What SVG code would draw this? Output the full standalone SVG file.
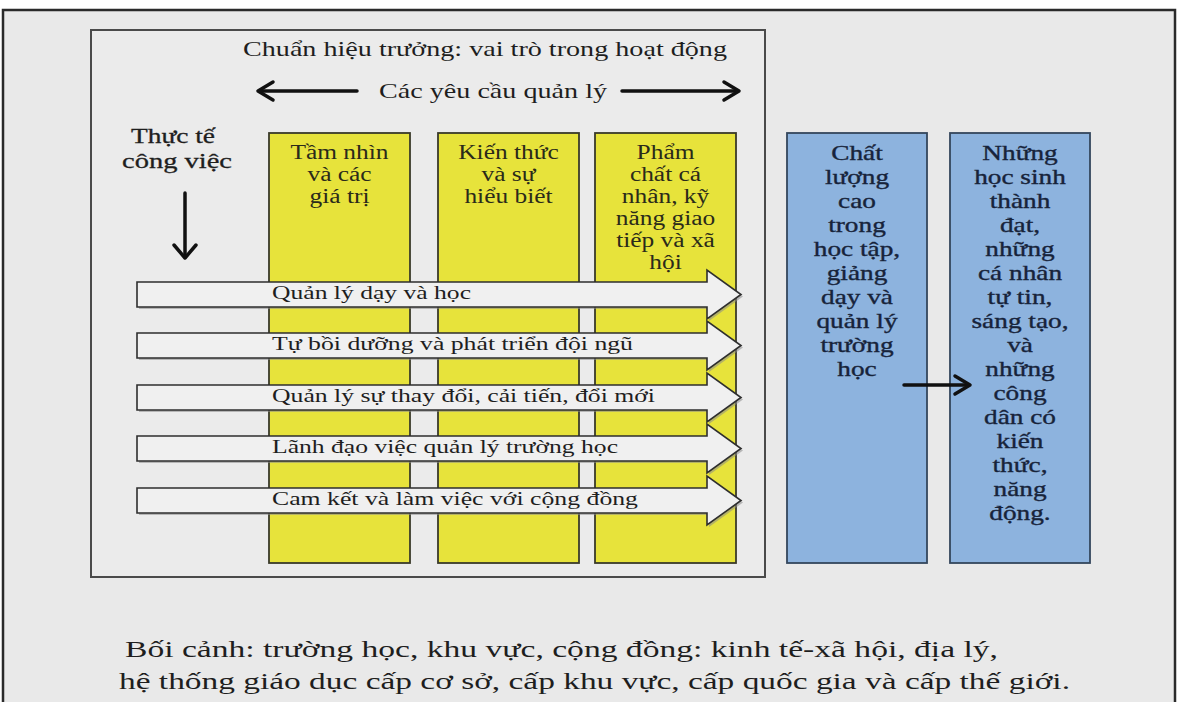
<svg xmlns="http://www.w3.org/2000/svg" width="1180" height="702" viewBox="0 0 1180 702">
<style>
.t{font-family:"Liberation Serif","Times New Roman",serif;fill:#1e1e1e}
.col{fill:#e7e33b;stroke:#3a3a2a;stroke-width:1.8}
.blue{fill:#8db3de;stroke:#34465c;stroke-width:1.8}
.bt{font-family:"Liberation Serif","Times New Roman",serif;fill:#17233a;stroke:#17233a;stroke-width:0.35;font-size:21px;text-anchor:middle}
.yt{font-family:"Liberation Serif","Times New Roman",serif;fill:#2a2a1a;font-size:20px;text-anchor:middle}
.blk{fill:#f0f0f0;stroke:#2e2e2e;stroke-width:1.6}
.shd{fill:#8a8a8a;opacity:0.55}
.ar{fill:none;stroke:#111;stroke-width:3.5;stroke-linecap:round;stroke-linejoin:round}
</style>
<rect x="0" y="0" width="1180" height="702" fill="#ffffff"/>
<rect id="frame" x="3" y="10" width="1172" height="720" fill="#e9e9e9" stroke="#2a2a2a" stroke-width="2.5"/>
<g id="inner-box">
<rect x="91" y="30" width="674" height="547" fill="#ebebeb" stroke="#4a4a4a" stroke-width="2"/>
<text class="t" x="243" y="56" font-size="22" textLength="484" lengthAdjust="spacingAndGlyphs">Chuẩn hiệu trưởng: vai trò trong hoạt động</text>
<text class="t" x="379" y="98" font-size="22" textLength="228" lengthAdjust="spacingAndGlyphs">Các yêu cầu quản lý</text>
<text class="t" x="131" y="143" font-size="21" textLength="84" lengthAdjust="spacingAndGlyphs" stroke="#1e1e1e" stroke-width="0.3">Thực tế</text>
<text class="t" x="122" y="168" font-size="21" textLength="110" lengthAdjust="spacingAndGlyphs" stroke="#1e1e1e" stroke-width="0.3">công việc</text>
</g>
<g id="col-1">
<rect class="col" x="269" y="133" width="141" height="430"/>
<g transform="translate(339.5 0) scale(1.27 1)">
<text class="yt" x="0" y="159">Tầm nhìn</text>
<text class="yt" x="0" y="181">và các</text>
<text class="yt" x="0" y="203">giá trị</text>
</g>
</g>
<g id="col-2">
<rect class="col" x="438" y="133" width="141" height="430"/>
<g transform="translate(508.5 0) scale(1.27 1)">
<text class="yt" x="0" y="159">Kiến thức</text>
<text class="yt" x="0" y="181">và sự</text>
<text class="yt" x="0" y="203">hiểu biết</text>
</g>
</g>
<g id="col-3">
<rect class="col" x="595" y="133" width="141" height="430"/>
<g transform="translate(665.5 0) scale(1.27 1)">
<text class="yt" x="0" y="159">Phẩm</text>
<text class="yt" x="0" y="181">chất cá</text>
<text class="yt" x="0" y="203">nhân, kỹ</text>
<text class="yt" x="0" y="225">năng giao</text>
<text class="yt" x="0" y="247">tiếp và xã</text>
<text class="yt" x="0" y="269">hội</text>
</g>
</g>
<g id="row-1">
<path class="shd" d="M139,284 H709 V272 L743,296.5 L709,321 V309 H139 Z"/>
<path class="blk" d="M137,282 H707 V270 L741,294.5 L707,319 V307 H137 Z"/>
<text class="t" x="272" y="299" font-size="19" textLength="199" lengthAdjust="spacingAndGlyphs">Quản lý dạy và học</text>
</g>
<g id="row-2">
<path class="shd" d="M139,335 H709 V323 L743,347.5 L709,372 V360 H139 Z"/>
<path class="blk" d="M137,333 H707 V321 L741,345.5 L707,370 V358 H137 Z"/>
<text class="t" x="272" y="350" font-size="19" textLength="361" lengthAdjust="spacingAndGlyphs">Tự bồi dưỡng và phát triển đội ngũ</text>
</g>
<g id="row-3">
<path class="shd" d="M139,387 H709 V375 L743,399.5 L709,424 V412 H139 Z"/>
<path class="blk" d="M137,385 H707 V373 L741,397.5 L707,422 V410 H137 Z"/>
<text class="t" x="272" y="402" font-size="19" textLength="383" lengthAdjust="spacingAndGlyphs">Quản lý sự thay đổi, cải tiến, đổi mới</text>
</g>
<g id="row-4">
<path class="shd" d="M139,438 H709 V426 L743,450.5 L709,475 V463 H139 Z"/>
<path class="blk" d="M137,436 H707 V424 L741,448.5 L707,473 V461 H137 Z"/>
<text class="t" x="272" y="453" font-size="19" textLength="346" lengthAdjust="spacingAndGlyphs">Lãnh đạo việc quản lý trường học</text>
</g>
<g id="row-5">
<path class="shd" d="M139,490 H709 V478 L743,502.5 L709,527 V515 H139 Z"/>
<path class="blk" d="M137,488 H707 V476 L741,500.5 L707,525 V513 H137 Z"/>
<text class="t" x="272" y="505" font-size="19" textLength="366" lengthAdjust="spacingAndGlyphs">Cam kết và làm việc với cộng đồng</text>
</g>
<g id="quality">
<rect class="blue" x="787" y="133" width="140" height="430"/>
<g transform="translate(857 0) scale(1.3 1)">
<text class="bt" x="0" y="160">Chất</text>
<text class="bt" x="0" y="184">lượng</text>
<text class="bt" x="0" y="208">cao</text>
<text class="bt" x="0" y="232">trong</text>
<text class="bt" x="0" y="256">học tập,</text>
<text class="bt" x="0" y="280">giảng</text>
<text class="bt" x="0" y="304">dạy và</text>
<text class="bt" x="0" y="328">quản lý</text>
<text class="bt" x="0" y="352">trường</text>
<text class="bt" x="0" y="376">học</text>
</g>
</g>
<g id="students">
<rect class="blue" x="950" y="133" width="140" height="430"/>
<g transform="translate(1020 0) scale(1.3 1)">
<text class="bt" x="0" y="160">Những</text>
<text class="bt" x="0" y="184">học sinh</text>
<text class="bt" x="0" y="208">thành</text>
<text class="bt" x="0" y="232">đạt,</text>
<text class="bt" x="0" y="256">những</text>
<text class="bt" x="0" y="280">cá nhân</text>
<text class="bt" x="0" y="304">tự tin,</text>
<text class="bt" x="0" y="328">sáng tạo,</text>
<text class="bt" x="0" y="352">và</text>
<text class="bt" x="0" y="376">những</text>
<text class="bt" x="0" y="400">công</text>
<text class="bt" x="0" y="424">dân có</text>
<text class="bt" x="0" y="448">kiến</text>
<text class="bt" x="0" y="472">thức,</text>
<text class="bt" x="0" y="496">năng</text>
<text class="bt" x="0" y="520">động.</text>
</g>
</g>
<g id="connectors">
<line class="ar" x1="357" y1="91" x2="260" y2="91"/>
<polyline class="ar" points="273,82 258,91 273,100"/>
<line class="ar" x1="622" y1="91" x2="737" y2="91"/>
<polyline class="ar" points="724,82 739,91 724,100"/>
<line class="ar" x1="185" y1="193" x2="185" y2="256"/>
<polyline class="ar" points="174,245 185,258 196,245"/>
<line class="ar" x1="904" y1="385" x2="968" y2="385" stroke-width="3"/>
<polyline class="ar" points="955,376 970,385 955,394" stroke-width="3"/>
</g>
<g id="context">
<text class="t" x="125" y="657" font-size="24" textLength="873" lengthAdjust="spacingAndGlyphs">Bối cảnh: trường học, khu vực, cộng đồng: kinh tế-xã hội, địa lý,</text>
<text class="t" x="119" y="689" font-size="24" textLength="951" lengthAdjust="spacingAndGlyphs">hệ thống giáo dục cấp cơ sở, cấp khu vực, cấp quốc gia và cấp thế giới.</text>
</g>
</svg>
